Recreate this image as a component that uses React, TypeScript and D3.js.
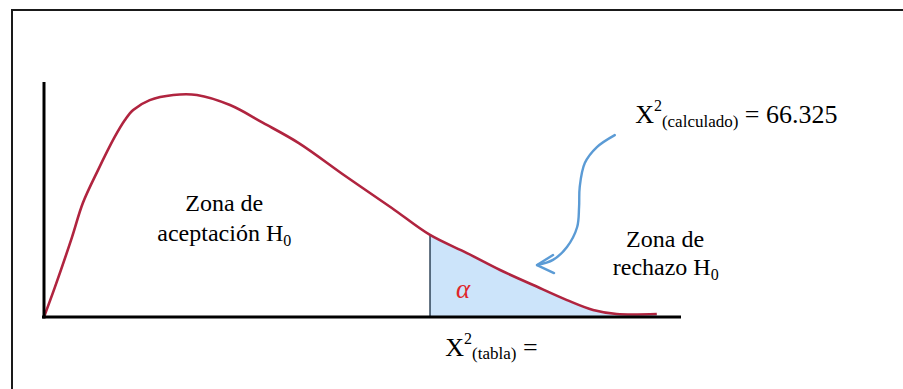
import React from "react";
import * as d3 from "d3";

const width = 903;
const height = 389;

// density curve (x: 0-100 along the axis, y: 0-100 height)
const curveX = [0, 1.73, 4.4, 6.1, 8.5, 11.1, 12.7, 14.0, 16.6, 20.3, 24, 29.2, 34.4, 40, 47.3, 54.6, 60.6, 66.4, 71.6, 76.8, 82.1, 86.2, 89.9, 96.2];
const curveY = [0, 12.8, 34.0, 48.5, 62.6, 76.6, 83.8, 88.1, 92.3, 94.5, 94.5, 90.2, 82.6, 74, 60.0, 46.4, 34.9, 27.2, 20, 13.6, 7.2, 3.0, 1.3, 1.3];

// critical value (X² tabla)
const critical = 60.6;

// arrow from the calculated value to the rejection zone
const arrowX = [89.6, 86.8, 84.9, 84.1, 84.0, 83.7, 82.1, 79.9, 77.4];
const arrowY = [77.4, 72.3, 65.5, 55.3, 46.8, 38.3, 29.8, 24.3, 22.1];

const acceptLines = ["Zona de", "aceptación H"];
const rejectLines = ["Zona de", "rechazo H"];
const calcValue = "66.325";

const serif = '"Liberation Serif", "Tinos", "Times New Roman"';

export default function App() {
  const x = d3.scaleLinear().domain([0, 100]).range([44, 681]);
  const y = d3.scaleLinear().domain([0, 100]).range([317, 82]);

  const pts: [number, number][] = curveX.map((d, i) => [d, curveY[i]]);
  const line = d3
    .line<[number, number]>()
    .x(d => x(d[0]))
    .y(d => y(d[1]))
    .curve(d3.curveCatmullRom.alpha(0.5));

  const tail = pts.filter(d => d[0] >= critical);
  const area = d3
    .area<[number, number]>()
    .x(d => x(d[0]))
    .y0(y(0))
    .y1(d => y(d[1]))
    .curve(d3.curveCatmullRom.alpha(0.5));

  const critY = curveY[curveX.indexOf(critical)];

  const arrowPts: [number, number][] = arrowX.map((d, i) => [d, arrowY[i]]);
  const arrowLine = d3
    .line<[number, number]>()
    .x(d => x(d[0]))
    .y(d => y(d[1]))
    .curve(d3.curveCatmullRom.alpha(0.5));
  const tip = arrowPts[arrowPts.length - 1];
  const tx = x(tip[0]);
  const ty = y(tip[1]);

  const txt = { fontFamily: serif };

  return (
    <svg
      width={width}
      height={height}
      style={{ position: "absolute", left: 0, top: 0, background: "#fff" }}
    >
      {/* frame */}
      <rect x={12} y={10} width={905} height={395} fill="none" stroke="#1a1a1a" strokeWidth={2} />

      {/* rejection area */}
      <path d={area(tail) || ""} fill="#cce4fa" />
      <line x1={x(critical)} x2={x(critical)} y1={y(0)} y2={y(critY)} stroke="#2f4458" strokeWidth={1.5} />

      {/* curve */}
      <path d={line(pts) || ""} fill="none" stroke="#b0243f" strokeWidth={2.6} strokeLinejoin="round" />

      {/* axes */}
      <line x1={x(0)} x2={x(0)} y1={y(100)} y2={y(0) + 1.5} stroke="#000" strokeWidth={3} />
      <line x1={x(0) - 2} x2={x(100)} y1={y(0)} y2={y(0)} stroke="#000" strokeWidth={3} />

      {/* alpha */}
      <text style={txt} x={x(65.8)} y={y(8.1)} textAnchor="middle" fontSize={27} fontStyle="italic" fill="#e0262a">
        α
      </text>

      {/* acceptance zone */}
      <text style={txt} x={x(28.3)} y={y(45.1)} textAnchor="middle" fontSize={24} fill="#000">
        {acceptLines[0]}
      </text>
      <text style={txt} x={x(28.3)} y={y(32.3)} textAnchor="middle" fontSize={24} fill="#000">
        {acceptLines[1]}
        <tspan fontSize={16} dy={5}>0</tspan>
      </text>

      {/* rejection zone */}
      <text style={txt} x={x(97.5)} y={y(29.8)} textAnchor="middle" fontSize={24} fill="#000">
        {rejectLines[0]}
      </text>
      <text style={txt} x={x(97.6)} y={y(17.9)} textAnchor="middle" fontSize={24} fill="#000">
        {rejectLines[1]}
        <tspan fontSize={16} dy={5}>0</tspan>
      </text>

      {/* calculated value */}
      <text style={txt} x={x(92.8)} y={y(82.6)} fontSize={26} fill="#000">
        X
        <tspan fontSize={16} dy={-12}>2</tspan>
        <tspan fontSize={17} dy={16}>(calculado)</tspan>
        <tspan dy={-4}>{" = " + calcValue}</tspan>
      </text>

      {/* table value */}
      <text style={txt} x={x(63)} y={y(-16.6)} fontSize={26} fill="#000">
        X
        <tspan fontSize={16} dy={-12}>2</tspan>
        <tspan fontSize={17} dy={15}>(tabla)</tspan>
        <tspan dy={-3}>{" ="}</tspan>
      </text>

      {/* arrow */}
      <path d={arrowLine(arrowPts) || ""} fill="none" stroke="#5b9bd5" strokeWidth={2.4} strokeLinecap="round" />
      <path
        d={`M${tx + 16},${ty - 10} L${tx},${ty} L${tx + 17},${ty + 8}`}
        fill="none"
        stroke="#5b9bd5"
        strokeWidth={2.4}
        strokeLinecap="round"
        strokeLinejoin="round"
      />
    </svg>
  );
}
